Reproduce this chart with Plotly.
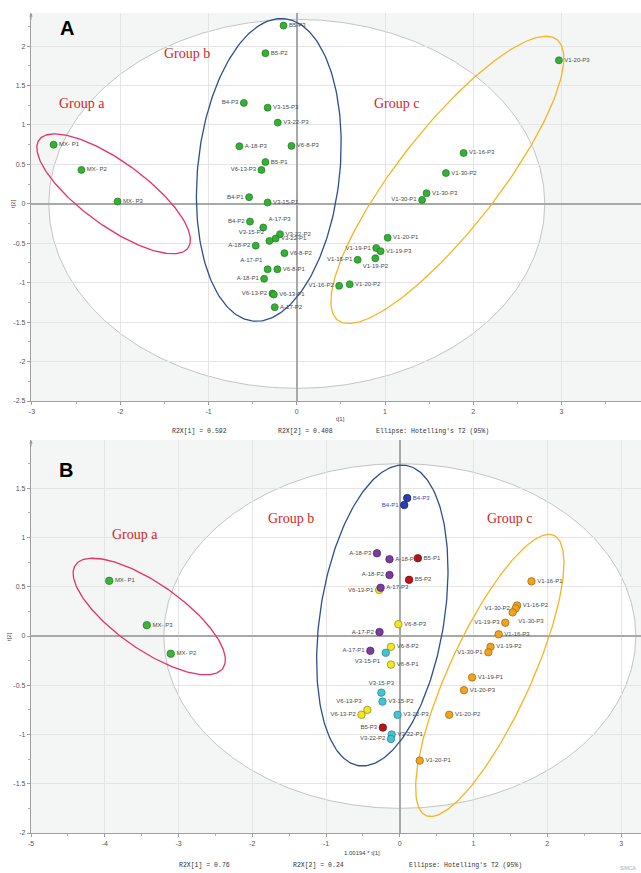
import numpy as np
import plotly.graph_objects as go

# ---------------- Panel A data (all samples green) ----------------
a_names = ["MX- P1", "MX- P2", "MX- P3",
           "B5-P3", "B5-P2", "B4-P3", "V3-15-P3", "V3-22-P3", "A-18-P3", "V6-8-P3",
           "B5-P1", "V6-13-P3", "B4-P1", "V3-15-P1", "B4-P2", "A-17-P3", "V3-22-P2",
           "V3-22-P1", "V3-15-P2", "A-18-P2", "V6-8-P2", "A-17-P1", "V6-8-P1", "A-18-P1",
           "V6-13-P2", "V6-13-P1", "A-17-P2",
           "V1-20-P3", "V1-16-P3", "V1-30-P2", "V1-30-P3", "V1-30-P1", "V1-20-P1",
           "V1-19-P1", "V1-19-P3", "V1-16-P1", "V1-19-P2", "V1-16-P2", "V1-20-P2"]
a_x = [-2.755, -2.44, -2.03,
       -0.15, -0.355, -0.60, -0.33, -0.215, -0.65, -0.06,
       -0.355, -0.40, -0.54, -0.33, -0.53, -0.38, -0.19,
       -0.24, -0.31, -0.465, -0.14, -0.33, -0.22, -0.37,
       -0.275, -0.26, -0.25,
       2.97, 1.89, 1.69, 1.47, 1.42, 1.03,
       0.90, 0.95, 0.69, 0.89, 0.48, 0.60]
a_y = [0.75, 0.43, 0.03,
       2.26, 1.91, 1.28, 1.22, 1.03, 0.73, 0.735,
       0.53, 0.43, 0.085, 0.017, -0.225, -0.30, -0.385,
       -0.44, -0.47, -0.53, -0.625, -0.83, -0.83, -0.95,
       -1.137, -1.15, -1.31,
       1.82, 0.645, 0.39, 0.135, 0.05, -0.43,
       -0.56, -0.60, -0.71, -0.69, -1.04, -1.02]
a_pos = ["middle right", "middle right", "middle right",
         "middle right", "middle right", "middle left", "middle right", "middle right",
         "middle right", "middle right", "middle right", "middle left", "middle left",
         "middle right", "middle left", "top right", "middle right", "middle right",
         "top left", "middle left", "middle right", "top left", "middle right",
         "middle left", "middle left", "middle right", "middle right",
         "middle right", "middle right", "middle right", "middle right", "middle left",
         "middle right", "middle left", "middle right", "middle left", "bottom center",
         "middle left", "middle right"]

# ---------------- Panel B data (coloured by group) ----------------
b_mx_names = ["MX- P1", "MX- P3", "MX- P2"]
b_mx_x = [-3.94, -3.43, -3.105]
b_mx_y = [0.56, 0.11, -0.18]
b_mx_pos = ["middle right", "middle right", "middle right"]

b_yel_names = ["V6-13-P1", "V6-8-P3", "V6-8-P2", "V6-8-P1", "V6-13-P3", "V6-13-P2"]
b_yel_x = [-0.28, -0.02, -0.12, -0.12, -0.44, -0.52]
b_yel_y = [0.467, 0.12, -0.11, -0.29, -0.75, -0.80]
b_yel_pos = ["middle left", "middle right", "middle right", "middle right", "top left", "middle left"]

b_cy_names = ["V3-15-P1", "V3-15-P3", "V3-15-P2", "V3-22-P3", "V3-22-P1", "V3-22-P2"]
b_cy_x = [-0.19, -0.25, -0.235, -0.03, -0.11, -0.12]
b_cy_y = [-0.17, -0.575, -0.666, -0.80, -1.00, -1.045]
b_cy_pos = ["bottom left", "top center", "middle right", "middle right", "middle right", "middle left"]

b_or_names = ["V1-16-P1", "V1-16-P2", "V1-30-P2", "V1-30-P3", "V1-19-P3", "V1-16-P3",
              "V1-19-P2", "V1-30-P1", "V1-19-P1", "V1-20-P3", "V1-20-P2", "V1-20-P1"]
b_or_x = [1.785, 1.59, 1.57, 1.53, 1.43, 1.34, 1.23, 1.20, 0.98, 0.87, 0.67, 0.27]
b_or_y = [0.555, 0.31, 0.28, 0.24, 0.135, 0.017, -0.11, -0.165, -0.42, -0.55, -0.80, -1.265]
b_or_pos = ["middle right", "middle right", "middle left", "bottom right", "middle left",
            "middle right", "middle right", "middle left", "middle right", "middle right",
            "middle right", "middle right"]

b_red_names = ["B5-P1", "B5-P2", "B5-P3"]
b_red_x = [0.245, 0.126, -0.23]
b_red_y = [0.79, 0.57, -0.93]
b_red_pos = ["middle right", "middle right", "middle left"]

b_pur_names = ["A-18-P3", "A-18-P1", "A-18-P2", "A-17-P3", "A-17-P2", "A-17-P1"]
b_pur_x = [-0.31, -0.14, -0.14, -0.26, -0.275, -0.40]
b_pur_y = [0.84, 0.78, 0.62, 0.49, 0.04, -0.15]
b_pur_pos = ["middle left", "middle right", "middle left", "middle right", "middle left", "middle left"]

b_blu_names = ["B4-P3", "B4-P1"]
b_blu_x = [0.10, 0.06]
b_blu_y = [1.40, 1.33]
b_blu_pos = ["middle right", "middle left"]

# ---------------- tick labels ----------------
xA_ticks = [-3, -2, -1, 0, 1, 2, 3]
yA_ticks = [-2.5, -2, -1.5, -1, -0.5, 0, 0.5, 1, 1.5, 2]
xB_ticks = [-5, -4, -3, -2, -1, 0, 1, 2, 3]
yB_ticks = [-2, -1.5, -1, -0.5, 0, 0.5, 1, 1.5]
xA_text = ["-3", "-2", "-1", "0", "1", "2", "3"]
yA_text = ["-2.5", "-2", "-1.5", "-1", "-0.5", "0", "0.5", "1", "1.5", "2"]
xB_text = ["-5", "-4", "-3", "-2", "-1", "0", "1", "2", "3"]
yB_text = ["-2", "-1.5", "-1", "-0.5", "0", "0.5", "1", "1.5"]

# ---------------- axes geometry ----------------
W, H = 641, 873
ML, MR, MT, MB = 31, 0, 13, 40
PW = W - ML - MR
PH = H - MT - MB
xA_range = [-3.011, 3.9]
yA_range = [-2.5, 2.42]
xB_range = [-5.0, 3.27]
yB_range = [-2.0, 1.99]
A_dom = [1 - (401 - MT) / PH, 1.0]
B_dom = [0.0, 1 - (440 - MT) / PH]
kxA = PW / (xA_range[1] - xA_range[0])
kyA = PH * (A_dom[1] - A_dom[0]) / (yA_range[1] - yA_range[0])
kxB = PW / (xB_range[1] - xB_range[0])
kyB = PH * (B_dom[1] - B_dom[0]) / (yB_range[1] - yB_range[0])

# group ellipses: centre (data), semi-axes (screen px), tilt (deg)
ellA_red = [-2.075, 0.127, 92, 32, -36]
ellA_blue = [-0.317, 0.431, 152, 71, 84]
ellA_or = [1.706, 0.304, 178, 50, 52]
ellB_red = [-3.397, 0.198, 90, 33, -35]
ellB_blue = [-0.237, 0.208, 152, 62, 81]
ellB_or = [1.22, -0.40, 154, 41, 65.4]
hotA = [2.81, 2.34]
hotB = [3.2, 1.75]


def ellipse(p, kx, ky, n=240):
    cx, cy, a, b, ang = p
    t = np.linspace(0, 2 * np.pi, n)
    th = np.radians(ang)
    dx = a * np.cos(t) * np.cos(th) - b * np.sin(t) * np.sin(th)
    dy = a * np.cos(t) * np.sin(th) + b * np.sin(t) * np.cos(th)
    return cx + dx / kx, cy + dy / ky


fig = go.Figure()

RED_E = "#e8306a"
BLUE_E = "#2e4f8e"
OR_E = "#f6b41e"

for p, col in [(ellA_red, RED_E), (ellA_blue, BLUE_E), (ellA_or, OR_E)]:
    ex, ey = ellipse(p, kxA, kyA)
    fig.add_trace(go.Scatter(x=ex, y=ey, mode="lines", line=dict(color=col, width=1.3),
                             hoverinfo="skip", showlegend=False, xaxis="x", yaxis="y"))
for p, col in [(ellB_red, RED_E), (ellB_blue, BLUE_E), (ellB_or, OR_E)]:
    ex, ey = ellipse(p, kxB, kyB)
    fig.add_trace(go.Scatter(x=ex, y=ey, mode="lines", line=dict(color=col, width=1.3),
                             hoverinfo="skip", showlegend=False, xaxis="x2", yaxis="y2"))

LBL = dict(family="Liberation Sans, Arial, sans-serif", size=6, color="#4a4a4a")

fig.add_trace(go.Scatter(
    x=a_x, y=a_y, text=a_names, textposition=a_pos, mode="markers+text",
    marker=dict(size=7, color="#34b034", line=dict(color="#1f7a1f", width=0.7)),
    textfont=LBL, showlegend=False, xaxis="x", yaxis="y"))

series_B = [
    (b_mx_names, b_mx_x, b_mx_y, b_mx_pos, "#3cb43c", "#1f7a1f", "#4a4a4a"),
    (b_yel_names, b_yel_x, b_yel_y, b_yel_pos, "#f2e61e", "#8a8420", "#4a4a4a"),
    (b_cy_names, b_cy_x, b_cy_y, b_cy_pos, "#45c3d3", "#2a7f8a", "#4a4a4a"),
    (b_or_names, b_or_x, b_or_y, b_or_pos, "#f2a21e", "#9a6410", "#4a4a4a"),
    (b_red_names, b_red_x, b_red_y, b_red_pos, "#b8141c", "#6a0a0e", "#4a4a4a"),
    (b_pur_names, b_pur_x, b_pur_y, b_pur_pos, "#7c3c9e", "#4a2060", "#4a4a4a"),
    (b_blu_names, b_blu_x, b_blu_y, b_blu_pos, "#2b3fae", "#16206a", "#3a46b8"),
]
for nm, xs, ys, ps, fc, lc, tc in series_B:
    fig.add_trace(go.Scatter(
        x=xs, y=ys, text=nm, textposition=ps, mode="markers+text",
        marker=dict(size=7.5, color=fc, line=dict(color=lc, width=0.7)),
        textfont=dict(family=LBL["family"], size=6, color=tc),
        showlegend=False, xaxis="x2", yaxis="y2"))

shapes = [
    dict(type="circle", xref="x", yref="y", x0=-hotA[0], x1=hotA[0], y0=-hotA[1], y1=hotA[1],
         fillcolor="white", line=dict(color="#c4c4c4", width=1), layer="below"),
    dict(type="circle", xref="x2", yref="y2", x0=-hotB[0], x1=hotB[0], y0=-hotB[1], y1=hotB[1],
         fillcolor="white", line=dict(color="#c4c4c4", width=1), layer="below"),
]

GRP = dict(family="Liberation Serif, Times New Roman, serif", size=14, color="#d02828")
MONO = dict(family="Liberation Mono, Courier New, monospace", size=6.5, color="#333333")
TICK = dict(family="Liberation Sans, Arial, sans-serif", size=7, color="#555555")
SMALL = dict(family="Liberation Sans, Arial", size=6, color="#444")


def px2paper(px, py):
    return (px - ML) / PW, (H - MB - py) / PH


ann = []
for txt, x, y, xr, yr in [("Group a", -2.43, 1.27, "x", "y"), ("Group b", -1.24, 1.91, "x", "y"),
                          ("Group c", 1.13, 1.27, "x", "y"), ("Group a", -3.59, 1.03, "x2", "y2"),
                          ("Group b", -1.48, 1.19, "x2", "y2"), ("Group c", 1.50, 1.19, "x2", "y2")]:
    ann.append(dict(text=txt, x=x, y=y, xref=xr, yref=yr, showarrow=False, font=GRP))

for txt, px, py, f, ang in [
    ("A", 67, 28, dict(family="Liberation Sans, Arial", size=20, color="black"), 0),
    ("B", 66, 470, dict(family="Liberation Sans, Arial", size=20, color="black"), 0),
    ("t[1]", 340, 419, SMALL, 0),
    ("t[2]", 13, 204, SMALL, -90),
    ("t[2]", 9, 637, SMALL, -90),
    ("R2X[1] = 0.592", 199, 431, MONO, 0),
    ("R2X[2] = 0.408", 305, 431, MONO, 0),
    ("Ellipse: Hotelling's T2 (95%)", 432, 431, MONO, 0),
    ("1.00194 * t[1]", 362, 853, SMALL, 0),
    ("R2X[1] = 0.76", 204, 865, MONO, 0),
    ("R2X[2] = 0.24", 318, 865, MONO, 0),
    ("Ellipse: Hotelling's T2 (95%)", 465, 865, MONO, 0),
    ("SIMCA", 628, 868, dict(family="Liberation Sans, Arial", size=5, color="#aaaaaa"), 0),
]:
    xp, yp = px2paper(px, py)
    bold = txt in ("A", "B")
    ann.append(dict(text=("<b>%s</b>" % txt) if bold else txt, x=xp, y=yp, xref="paper", yref="paper",
                    showarrow=False, font=f, textangle=ang, xanchor="center", yanchor="middle"))

# small arrow heads on top of y axes
for xr, yr, xv, yv in [("x", "y", xA_range[0], yA_range[1]), ("x2", "y2", xB_range[0], yB_range[1])]:
    ann.append(dict(x=xv, y=yv, xref=xr, yref=yr, ax=0, ay=8, showarrow=True, arrowhead=2,
                    arrowsize=0.7, arrowwidth=1, arrowcolor="#999999", text=""))


def axis(rng, tv, tt, dom, anchor, minor):
    return dict(range=rng, tickmode="array", tickvals=tv, ticktext=tt, showgrid=True,
                gridcolor="#e4e4e4", gridwidth=1, automargin=False,
                zeroline=True, zerolinecolor="#a8a8a8", zerolinewidth=1.6, showline=True,
                linecolor="#a0a0a0", linewidth=1.2, ticks="outside", ticklen=3, tickcolor="#a0a0a0",
                tickfont=TICK, fixedrange=True, domain=dom, anchor=anchor,
                minor=dict(ticks="outside", ticklen=2, tickcolor="#b0b0b0", tickmode="linear",
                           tick0=0, dtick=minor, showgrid=False))


fig.update_layout(
    width=W, height=H, margin=dict(l=ML, r=MR, t=MT, b=MB),
    paper_bgcolor="white", plot_bgcolor="#f4f5f5",
    xaxis=axis(xA_range, xA_ticks, xA_text, [0, 1], "y", 0.5),
    yaxis=axis(yA_range, yA_ticks, yA_text, A_dom, "x", 0.25),
    xaxis2=axis(xB_range, xB_ticks, xB_text, [0, 1], "y2", 0.5),
    yaxis2=axis(yB_range, yB_ticks, yB_text, B_dom, "x2", 0.25),
    shapes=shapes, annotations=ann, showlegend=False, hovermode=False,
)

fig.write_html("out.html", config={"displayModeBar": False, "staticPlot": True},
               post_script="document.body.style.margin='0px';document.body.style.overflow='hidden';")
